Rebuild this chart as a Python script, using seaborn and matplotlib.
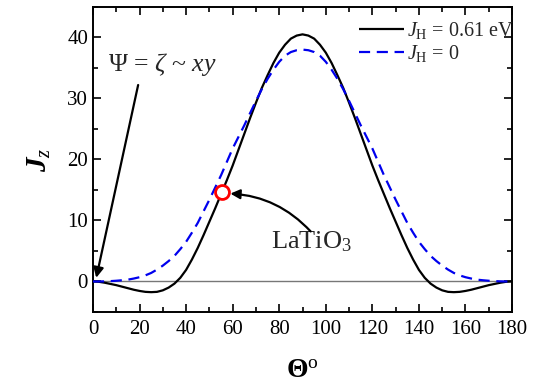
import numpy as np
import pandas as pd
import matplotlib
matplotlib.use("Agg")
import matplotlib.pyplot as plt
from matplotlib.ticker import MultipleLocator
import seaborn as sns

# ---- data (0..90 deg; the curves are symmetric about 90) ----
theta_half = [0, 2.5, 5, 7.5, 10, 12.5, 15, 17.5, 20, 22.5, 25, 27.5, 30, 32.5, 35,
              37.5, 40, 42.5, 45, 47.5, 50, 52.5, 55, 57.5, 60, 62.5, 65, 67.5, 70,
              72.5, 75, 77.5, 80, 82.5, 85, 87.5, 90]
jz_061_half = [0, -0.05, -0.2, -0.4, -0.6, -0.85, -1.1, -1.35, -1.55, -1.7, -1.75, -1.7,
               -1.45, -1.0, -0.35, 0.6, 1.9, 3.6, 5.5, 7.6, 9.8, 12.0, 14.3, 16.6,
               19.0, 21.6, 24.2, 26.8, 29.3, 31.7, 33.8, 35.8, 37.5, 38.8, 39.8, 40.3, 40.5]
jz_0_half = [0, 0, 0.02, 0.06, 0.12, 0.2, 0.3, 0.48, 0.7, 1.0, 1.4, 1.95, 2.6, 3.35,
             4.2, 5.3, 6.5, 8.0, 9.6, 11.5, 13.4, 15.4, 17.4, 19.6, 21.8, 23.7, 25.6,
             27.6, 29.6, 31.5, 33.2, 34.7, 36.0, 37.0, 37.6, 37.9, 38.0]

theta = theta_half + [180 - t for t in theta_half[-2::-1]]
jz_061 = jz_061_half + jz_061_half[-2::-1]
jz_0 = jz_0_half + jz_0_half[-2::-1]

series_labels = [r"$J_{\rm H}$ = 0.61 eV", r"$J_{\rm H}$ = 0"]
marker_theta = [55.5]
marker_jz = [14.6]

df = pd.DataFrame({
    "theta": theta * 2,
    "Jz": jz_061 + jz_0,
    "series": [series_labels[0]] * len(theta) + [series_labels[1]] * len(theta),
})

sns.set_theme(style="ticks")
plt.rcParams["font.family"] = ["Liberation Serif", "DejaVu Serif"]
plt.rcParams["mathtext.fontset"] = "custom"
plt.rcParams["mathtext.rm"] = "Liberation Serif"
plt.rcParams["mathtext.it"] = "Liberation Serif:italic"
plt.rcParams["mathtext.bf"] = "Liberation Serif:bold"
plt.rcParams["mathtext.bfit"] = "Liberation Serif:italic:bold"

fig = plt.figure(figsize=(5.39, 3.83), dpi=100)
ax = fig.add_axes([0.1725, 0.1854, 0.7775, 0.7966])

ax.axhline(0, color="#777777", lw=1.0, zorder=1)

sns.lineplot(data=df, x="theta", y="Jz", hue="series", style="series",
             palette=["black", "#0000ee"], dashes=[(1, 0), (5, 3)],
             linewidth=1.6, sort=False, ax=ax, zorder=3)

ax.plot(marker_theta, marker_jz, "o", ms=10, mfc="white", mec="red", mew=2, zorder=5)

ax.set_xlim(0, 180)
ax.set_ylim(-5, 45)
ax.set_xticks(range(0, 181, 20))
ax.set_yticks(range(0, 41, 10))
ax.xaxis.set_minor_locator(MultipleLocator(10))
ax.yaxis.set_minor_locator(MultipleLocator(5))
ax.tick_params(which="both", direction="in", top=True, right=True, width=1.2,
               labelsize=15, color="black", labelcolor="black")
ax.tick_params(which="major", length=6)
ax.tick_params(which="minor", length=3.5)
ax.tick_params(axis="x", pad=6)
for s in ax.spines.values():
    s.set_linewidth(1.4)
    s.set_color("black")

ax.set_xlabel(r"$\mathbf{\Theta}^{\rm o}$", fontsize=20, labelpad=14, color="black")
ax.set_ylabel(r"$\mathbfit{J}_{z}$", fontsize=21, labelpad=10, color="black")

leg = ax.legend(loc="upper right", bbox_to_anchor=(1.012, 0.97), frameon=False,
                fontsize=14.5, handlelength=2.2, handletextpad=0.15,
                borderaxespad=0.0, borderpad=0.2, labelspacing=0.1)

ax.text(6.5, 35.6, r"$\Psi$ = $\zeta$ ~ $xy$", fontsize=18.5, va="center", ha="left")
ax.annotate("", xy=(1.4, 0.6), xytext=(19.4, 32.2),
            arrowprops=dict(arrowstyle="-|>", color="black", lw=1.6,
                            mutation_scale=15, shrinkA=0, shrinkB=0))

ax.text(94.0, 6.6, r"LaTiO$_3$", fontsize=19, va="center", ha="center")
ax.annotate("", xy=(59.0, 14.4), xytext=(93.5, 8.2),
            arrowprops=dict(arrowstyle="-|>", color="black", lw=1.6,
                            mutation_scale=14, shrinkA=0, shrinkB=0,
                            connectionstyle="arc3,rad=0.2"))

fig.savefig("out.png", dpi=100)
